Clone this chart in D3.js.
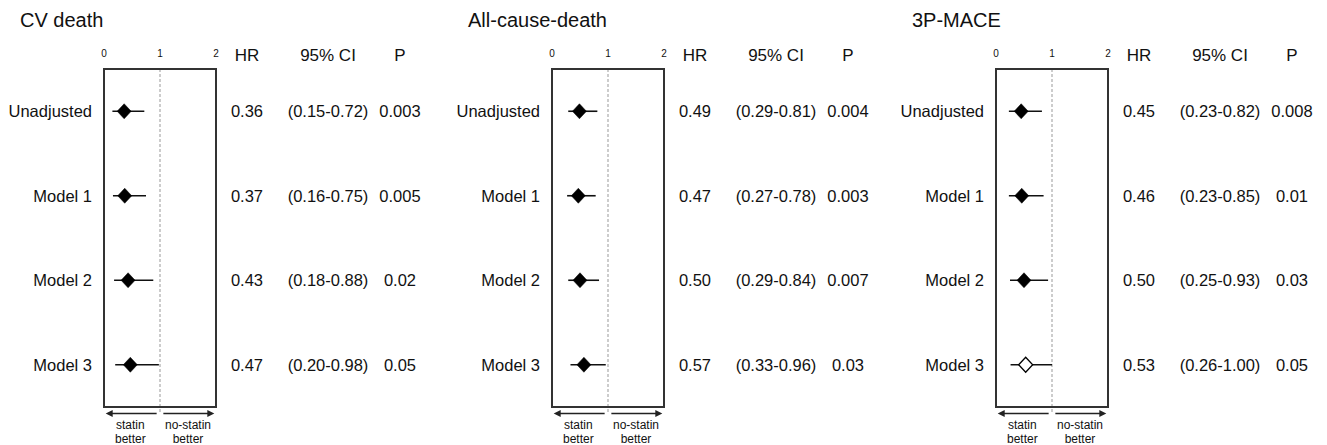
<!DOCTYPE html>
<html lang="en">
<head>
<meta charset="utf-8">
<title>Statin forest plots</title>
<script src="https://d3js.org/d3.v7.min.js"></script>
<style>
  body { margin: 0; background: #fff; }
  svg { font-family: "Liberation Sans", Arial, sans-serif; }
</style>
</head>
<body>
<script>
// chart values
var outcomes = ["CV death", "All-cause-death", "3P-MACE"];
var models = ["Unadjusted", "Model 1", "Model 2", "Model 3"];
var hr  = [[0.36, 0.37, 0.43, 0.47], [0.49, 0.47, 0.50, 0.57], [0.45, 0.46, 0.50, 0.53]];
var lo  = [[0.15, 0.16, 0.18, 0.20], [0.29, 0.27, 0.29, 0.33], [0.23, 0.23, 0.25, 0.26]];
var hi  = [[0.72, 0.75, 0.88, 0.98], [0.81, 0.78, 0.84, 0.96], [0.82, 0.85, 0.93, 1.00]];
var pval = [["0.003", "0.005", "0.02", "0.05"], ["0.004", "0.003", "0.007", "0.03"], ["0.008", "0.01", "0.03", "0.05"]];
var ticks = [0, 1, 2];

var width = 1327, height = 445;
var boxLeft = [104, 552, 996];
var boxW = 112, boxTop = 69, boxBottom = 407;
var f2 = d3.format(".2f");

var svg = d3.select("body").append("svg")
    .attr("width", width)
    .attr("height", height);

var y = d3.scalePoint()
    .domain(models)
    .range([boxTop, boxBottom])
    .padding(0.5);

outcomes.forEach(function(name, k) {
  var x = d3.scaleLinear().domain([0, 2]).range([boxLeft[k], boxLeft[k] + boxW]);
  var g = svg.append("g");
  var right = x(2);

  // title
  g.append("text")
    .attr("x", boxLeft[k] - 84).attr("y", 27)
    .attr("font-size", 20).attr("fill", "#111")
    .text(name);

  // axis tick labels
  g.selectAll(".tk").data(ticks).enter().append("text")
    .attr("x", function(d) { return x(d); })
    .attr("y", 57)
    .attr("text-anchor", "middle")
    .attr("font-size", 10).attr("fill", "#111")
    .text(function(d) { return d; });

  // column headers
  var heads = [["HR", 31], ["95% CI", 112], ["P", 184]];
  g.selectAll(".hd").data(heads).enter().append("text")
    .attr("x", function(d) { return right + d[1]; })
    .attr("y", 61)
    .attr("text-anchor", "middle")
    .attr("font-size", 17).attr("fill", "#111")
    .text(function(d) { return d[0]; });

  // reference line at 1
  g.append("line")
    .attr("x1", x(1)).attr("x2", x(1))
    .attr("y1", boxTop).attr("y2", boxBottom + 5)
    .attr("stroke", "#999").attr("stroke-width", 1)
    .attr("stroke-dasharray", "3,2");

  // box
  g.append("rect")
    .attr("x", x(0)).attr("y", boxTop)
    .attr("width", x(2) - x(0)).attr("height", boxBottom - boxTop)
    .attr("fill", "none").attr("stroke", "#333").attr("stroke-width", 2);

  // rows
  models.forEach(function(m, i) {
    var cy = y(m);
    g.append("text")
      .attr("x", x(0) - 12).attr("y", cy + 6)
      .attr("text-anchor", "end")
      .attr("font-size", 16.5).attr("fill", "#111")
      .text(m);

    g.append("line")
      .attr("x1", x(lo[k][i])).attr("x2", x(hi[k][i]))
      .attr("y1", cy).attr("y2", cy)
      .attr("stroke", "#111").attr("stroke-width", 1.6);

    var cx = x(hr[k][i]);
    var open = hi[k][i] >= 1;
    g.append("path")
      .attr("d", "M" + (cx - 7) + "," + cy + "L" + cx + "," + (cy - 7.5) +
                 "L" + (cx + 7) + "," + cy + "L" + cx + "," + (cy + 7.5) + "Z")
      .attr("fill", open ? "#fff" : "#000")
      .attr("stroke", "#000").attr("stroke-width", open ? 1.3 : 0.5);

    var cols = [[f2(hr[k][i]), 31], ["(" + f2(lo[k][i]) + "-" + f2(hi[k][i]) + ")", 112], [pval[k][i], 184]];
    g.selectAll(null).data(cols).enter().append("text")
      .attr("x", function(d) { return right + d[1]; })
      .attr("y", cy + 6)
      .attr("text-anchor", "middle")
      .attr("font-size", 16.5).attr("fill", "#111")
      .text(function(d) { return d[0]; });
  });

  // direction arrows
  var ay = 413.5;
  g.append("line").attr("x1", x(0.94)).attr("x2", x(0.08))
    .attr("y1", ay).attr("y2", ay).attr("stroke", "#222").attr("stroke-width", 1.3);
  g.append("path")
    .attr("d", "M" + x(0.03) + "," + ay + "l7,-3.5l0,7z").attr("fill", "#222");
  g.append("line").attr("x1", x(1.06)).attr("x2", x(1.92))
    .attr("y1", ay).attr("y2", ay).attr("stroke", "#222").attr("stroke-width", 1.3);
  g.append("path")
    .attr("d", "M" + x(1.97) + "," + ay + "l-7,-3.5l0,7z").attr("fill", "#222");

  var notes = [[0.47, "statin"], [1.5, "no-statin"]];
  notes.forEach(function(n) {
    var t = g.append("text")
      .attr("x", x(n[0])).attr("y", 429)
      .attr("text-anchor", "middle")
      .attr("font-size", 12).attr("fill", "#111");
    t.append("tspan").attr("x", x(n[0])).text(n[1]);
    t.append("tspan").attr("x", x(n[0])).attr("dy", 14).text("better");
  });
});
</script>
</body>
</html>
